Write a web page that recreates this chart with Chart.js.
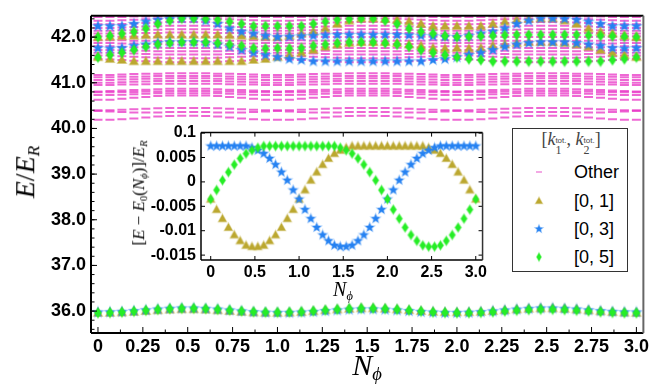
<!DOCTYPE html>
<html><head><meta charset="utf-8">
<script src="https://cdn.jsdelivr.net/npm/chart.js@4/dist/chart.umd.min.js"></script>
<style>
html,body{margin:0;padding:0;background:#fff;}
#wrap{position:relative;width:652px;height:385px;overflow:hidden;background:#fff;}
canvas{position:absolute;}
#main{left:0;top:0;}
#inset{left:150px;top:118px;}
.t{position:absolute;white-space:nowrap;font-family:"Liberation Serif","Times New Roman",serif;color:#000;line-height:1;}
.rot{transform:translate(-50%,-50%) rotate(-90deg);}
.ctr{transform:translate(-50%,-50%);}
.t sub{font-size:0.62em;vertical-align:-0.3em;}
#legend{position:absolute;left:512px;top:128px;width:116px;height:144px;border:1px solid #333;background:#fff;box-sizing:border-box;}
#ltitle{position:absolute;left:58px;top:14px;transform:translate(-50%,-50%);white-space:nowrap;font-family:"Liberation Serif",serif;font-size:18px;color:#444;}
.ss{display:inline-block;vertical-align:-0.5em;line-height:0.95;text-align:left;}
.ss span{display:block;}
.sp{font-family:"Liberation Sans",Arial,sans-serif;font-size:8px;}
.sb{font-size:12px;}
.lt{position:absolute;left:61px;transform:translateY(-50%);font-family:"Liberation Sans",Arial,sans-serif;font-size:18px;color:#000;white-space:nowrap;}
.li{position:absolute;}
</style></head><body>
<div id="wrap">
<canvas id="main" width="652" height="385"></canvas>
<canvas id="inset" width="340" height="185"></canvas>
<div class="t rot" style="left:27px;top:172px;font-size:28px;"><i>E</i>/<i>E</i><sub><i>R</i></sub></div>
<div class="t ctr" style="left:367px;top:367px;font-size:30px;"><i>N</i><sub><i>ϕ</i></sub></div>
<div class="t rot" style="left:140px;top:193px;font-size:17px;">[<i>E</i> − <i>E</i><sub>0</sub>(<i>N</i><sub><i>ϕ</i></sub>)]/<i>E</i><sub><i>R</i></sub></div>
<div class="t ctr" style="left:343px;top:291px;font-size:20px;"><i>N</i><sub><i>ϕ</i></sub></div>
<div id="legend">
 <div id="ltitle">[<i>k</i><span class="ss"><span class="sp">tot.</span><span class="sb">1</span></span>, <i>k</i><span class="ss"><span class="sp">tot.</span><span class="sb">2</span></span>]</div>
 <canvas class="li" id="li0"></canvas><div class="lt" style="top:43px;">Other</div>
 <canvas class="li" id="li1"></canvas><div class="lt" style="top:72px;">[0, 1]</div>
 <canvas class="li" id="li2"></canvas><div class="lt" style="top:100px;">[0, 3]</div>
 <canvas class="li" id="li3"></canvas><div class="lt" style="top:128px;">[0, 5]</div>
</div>
</div>
<script>
// ---------------- data ----------------
const nPhi = [0,0.0667,0.1333,0.2,0.2667,0.3333,0.4,0.4667,0.5333,0.6,0.6667,0.7333,0.8,0.8667,0.9333,1,1.0667,1.1333,1.2,1.2667,1.3333,1.4,1.4667,1.5333,1.6,1.6667,1.7333,1.8,1.8667,1.9333,2,2.0667,2.1333,2.2,2.2667,2.3333,2.4,2.4667,2.5333,2.6,2.6667,2.7333,2.8,2.8667,2.9333,3];

// E0(N_phi) (bottom cluster)
const e0 = [35.965,35.968,35.978,35.993,36.012,36.030,36.045,36.053,36.053,36.045,36.030,36.012,35.993,35.978,35.968,
35.965,35.968,35.978,35.993,36.012,36.030,36.045,36.053,36.053,36.045,36.030,36.012,35.993,35.978,35.968,
35.965,35.968,35.978,35.993,36.012,36.030,36.045,36.053,36.053,36.045,36.030,36.012,35.993,35.978,35.968,35.965];

// inset: [E - E0]/E_R
const insetK01 = [-0.00353,-0.00567,-0.00753,-0.00933,-0.01087,-0.01207,-0.01300,-0.01327,-0.01327,-0.01300,-0.01207,-0.01087,-0.00933,-0.00753,-0.00567,-0.00353,-0.00167,0.00033,0.00200,0.00353,0.00480,0.00580,0.00647,0.00700,
0.00733,0.00733,0.00733,0.00733,0.00733,0.00733,0.00733,0.00733,0.00733,0.00733,0.00733,0.00733,0.00733,
0.00700,0.00647,0.00580,0.00480,0.00353,0.00200,0.00033,-0.00167,-0.00353];
const insetK03 = [0.00733,0.00733,0.00733,0.00733,0.00733,0.00733,0.00733,0.00700,0.00647,0.00580,0.00480,0.00353,0.00200,0.00033,-0.00167,-0.00353,-0.00567,-0.00753,-0.00933,-0.01087,-0.01207,-0.01300,-0.01327,
-0.01327,-0.01300,-0.01207,-0.01087,-0.00933,-0.00753,-0.00567,-0.00353,-0.00167,0.00033,0.00200,0.00353,0.00480,0.00580,0.00647,0.00700,0.00733,0.00733,0.00733,0.00733,0.00733,0.00733,0.00733];
const insetK05 = [-0.00353,-0.00167,0.00033,0.00200,0.00353,0.00480,0.00580,0.00647,0.00700,
0.00733,0.00733,0.00733,0.00733,0.00733,0.00733,0.00733,0.00733,0.00733,0.00733,0.00733,0.00733,0.00733,
0.00700,0.00647,0.00580,0.00480,0.00353,0.00200,0.00033,-0.00167,-0.00353,-0.00567,-0.00753,-0.00933,-0.01087,-0.01207,-0.01300,-0.01327,
-0.01327,-0.01300,-0.01207,-0.01087,-0.00933,-0.00753,-0.00567,-0.00353];

// upper coloured levels (main chart)
const k03UpperA = [42.24,42.24,42.24,42.29,42.34,42.38,42.40,42.41,42.41,42.36,42.29,42.19,42.12,42.08,42.03,42.00,42.01,42.02,42.03,42.04,42.05,42.05,42.05,42.05,42.05,42.05,42.04,42.03,42.02,42.01,42.00,42.03,42.08,42.12,42.19,42.29,42.36,42.41,42.41,42.40,42.38,42.34,42.29,42.24,42.24,42.24];
const k03UpperB = [41.76,41.75,41.76,41.81,41.84,41.87,41.89,41.89,41.89,41.87,41.84,41.79,41.72,41.66,41.61,41.56,41.52,41.50,41.47,41.47,41.47,41.47,41.47,41.47,41.47,41.47,41.47,41.47,41.50,41.52,41.56,41.61,41.66,41.72,41.79,41.84,41.87,41.89,41.89,41.89,41.87,41.84,41.81,41.76,41.75,41.76];
const k01UpperA = [42.00,42.01,42.02,42.03,42.04,42.05,42.05,42.05,42.05,42.05,42.05,42.04,42.03,42.02,42.01,42.00,42.03,42.08,42.12,42.19,42.29,42.36,42.41,42.41,42.40,42.38,42.34,42.29,42.24,42.24,42.24,42.24,42.24,42.29,42.34,42.38,42.40,42.41,42.41,42.36,42.29,42.19,42.12,42.08,42.03,42.00];
const k01UpperB = [41.56,41.52,41.50,41.47,41.47,41.47,41.47,41.47,41.47,41.47,41.47,41.47,41.47,41.50,41.52,41.56,41.61,41.66,41.72,41.79,41.84,41.87,41.89,41.89,41.89,41.87,41.84,41.81,41.76,41.75,41.76,41.75,41.76,41.81,41.84,41.87,41.89,41.89,41.89,41.87,41.84,41.79,41.72,41.66,41.61,41.56];
const k05UpperA = [42.00,42.03,42.08,42.12,42.19,42.29,42.36,42.41,42.41,42.40,42.38,42.34,42.29,42.24,42.24,42.24,42.24,42.24,42.29,42.34,42.38,42.40,42.41,42.41,42.36,42.29,42.19,42.12,42.08,42.03,42.00,42.01,42.02,42.03,42.04,42.05,42.05,42.05,42.05,42.05,42.05,42.04,42.03,42.02,42.01,42.00];
const k05UpperB = [41.56,41.61,41.66,41.72,41.79,41.84,41.87,41.89,41.89,41.89,41.87,41.84,41.81,41.76,41.75,41.76,41.75,41.76,41.81,41.84,41.87,41.89,41.89,41.89,41.87,41.84,41.79,41.72,41.66,41.61,41.56,41.52,41.50,41.47,41.47,41.47,41.47,41.47,41.47,41.47,41.47,41.47,41.47,41.50,41.52,41.56];

// "Other" levels
const otherL01=[40.19,40.19,40.20,40.22,40.24,40.26,40.27,40.28,40.28,40.27,40.26,40.24,40.22,40.20,40.19,40.19,40.19,40.20,40.22,40.24,40.26,40.27,40.28,40.28,40.27,40.26,40.24,40.22,40.20,40.19,40.19,40.19,40.20,40.22,40.24,40.26,40.27,40.28,40.28,40.27,40.26,40.24,40.22,40.20,40.19,40.19];
const otherL02=[40.38,40.37,40.36,40.35,40.35,40.35,40.36,40.36,40.36,40.36,40.35,40.35,40.35,40.36,40.37,40.38,40.37,40.36,40.35,40.35,40.35,40.36,40.36,40.36,40.36,40.35,40.35,40.35,40.36,40.37,40.38,40.37,40.36,40.35,40.35,40.35,40.36,40.36,40.36,40.36,40.35,40.35,40.35,40.36,40.37,40.38];
const otherL03=[40.40,40.40,40.41,40.42,40.43,40.44,40.45,40.45,40.45,40.45,40.44,40.43,40.42,40.41,40.40,40.40,40.40,40.41,40.42,40.43,40.44,40.45,40.45,40.45,40.45,40.44,40.43,40.42,40.41,40.40,40.40,40.40,40.41,40.42,40.43,40.44,40.45,40.45,40.45,40.45,40.44,40.43,40.42,40.41,40.40,40.40];
const otherL04=[40.63,40.63,40.65,40.67,40.69,40.71,40.72,40.72,40.72,40.72,40.71,40.69,40.67,40.65,40.63,40.63,40.63,40.65,40.67,40.69,40.71,40.72,40.72,40.72,40.72,40.71,40.69,40.67,40.65,40.63,40.63,40.63,40.65,40.67,40.69,40.71,40.72,40.72,40.72,40.72,40.71,40.69,40.67,40.65,40.63,40.63];
const otherL05=[40.73,40.73,40.74,40.75,40.76,40.77,40.77,40.77,40.77,40.77,40.77,40.76,40.75,40.74,40.73,40.73,40.73,40.74,40.75,40.76,40.77,40.77,40.77,40.77,40.77,40.77,40.76,40.75,40.74,40.73,40.73,40.73,40.74,40.75,40.76,40.77,40.77,40.77,40.77,40.77,40.77,40.76,40.75,40.74,40.73,40.73];
const otherL06=[40.79,40.79,40.80,40.80,40.81,40.81,40.82,40.82,40.82,40.82,40.81,40.81,40.80,40.80,40.79,40.79,40.79,40.80,40.80,40.81,40.81,40.82,40.82,40.82,40.82,40.81,40.81,40.80,40.80,40.79,40.79,40.79,40.80,40.80,40.81,40.81,40.82,40.82,40.82,40.82,40.81,40.81,40.80,40.80,40.79,40.79];
const otherL07=[40.81,40.82,40.83,40.84,40.85,40.86,40.87,40.87,40.87,40.87,40.86,40.85,40.84,40.83,40.82,40.81,40.82,40.83,40.84,40.85,40.86,40.87,40.87,40.87,40.87,40.86,40.85,40.84,40.83,40.82,40.81,40.82,40.83,40.84,40.85,40.86,40.87,40.87,40.87,40.87,40.86,40.85,40.84,40.83,40.82,40.81];
const otherL08=[40.95,40.95,40.96,40.96,40.97,40.98,40.98,40.98,40.98,40.98,40.98,40.97,40.96,40.96,40.95,40.95,40.95,40.96,40.96,40.97,40.98,40.98,40.98,40.98,40.98,40.98,40.97,40.96,40.96,40.95,40.95,40.95,40.96,40.96,40.97,40.98,40.98,40.98,40.98,40.98,40.98,40.97,40.96,40.96,40.95,40.95];
const otherL09=[41.00,41.00,41.01,41.02,41.03,41.04,41.04,41.04,41.04,41.04,41.04,41.03,41.02,41.01,41.00,41.00,41.00,41.01,41.02,41.03,41.04,41.04,41.04,41.04,41.04,41.04,41.03,41.02,41.01,41.00,41.00,41.00,41.01,41.02,41.03,41.04,41.04,41.04,41.04,41.04,41.04,41.03,41.02,41.01,41.00,41.00];
const otherL10=[41.06,41.06,41.07,41.08,41.09,41.09,41.10,41.10,41.10,41.10,41.09,41.09,41.08,41.07,41.06,41.06,41.06,41.07,41.08,41.09,41.09,41.10,41.10,41.10,41.10,41.09,41.09,41.08,41.07,41.06,41.06,41.06,41.07,41.08,41.09,41.09,41.10,41.10,41.10,41.10,41.09,41.09,41.08,41.07,41.06,41.06];
const otherL11=[41.12,41.12,41.13,41.13,41.14,41.15,41.15,41.15,41.15,41.15,41.15,41.14,41.13,41.13,41.12,41.12,41.12,41.13,41.13,41.14,41.15,41.15,41.15,41.15,41.15,41.15,41.14,41.13,41.13,41.12,41.12,41.12,41.13,41.13,41.14,41.15,41.15,41.15,41.15,41.15,41.15,41.14,41.13,41.13,41.12,41.12];
const otherL12=[41.17,41.17,41.18,41.19,41.20,41.20,41.21,41.21,41.21,41.21,41.20,41.20,41.19,41.18,41.17,41.17,41.17,41.18,41.19,41.20,41.20,41.21,41.21,41.21,41.21,41.20,41.20,41.19,41.18,41.17,41.17,41.17,41.18,41.19,41.20,41.20,41.21,41.21,41.21,41.21,41.20,41.20,41.19,41.18,41.17,41.17];
const otherL13=[41.52,41.51,41.50,41.48,41.47,41.46,41.45,41.45,41.45,41.45,41.46,41.47,41.48,41.50,41.51,41.52,41.51,41.50,41.48,41.47,41.46,41.45,41.45,41.45,41.45,41.46,41.47,41.48,41.50,41.51,41.52,41.51,41.50,41.48,41.47,41.46,41.45,41.45,41.45,41.45,41.46,41.47,41.48,41.50,41.51,41.52];
const otherL14=[41.60,41.60,41.58,41.57,41.56,41.55,41.54,41.54,41.54,41.54,41.55,41.56,41.57,41.58,41.60,41.60,41.60,41.58,41.57,41.56,41.55,41.54,41.54,41.54,41.54,41.55,41.56,41.57,41.58,41.60,41.60,41.60,41.58,41.57,41.56,41.55,41.54,41.54,41.54,41.54,41.55,41.56,41.57,41.58,41.60,41.60];
const otherL15=[41.66,41.66,41.65,41.64,41.63,41.62,41.62,41.62,41.62,41.62,41.62,41.63,41.64,41.65,41.66,41.66,41.66,41.65,41.64,41.63,41.62,41.62,41.62,41.62,41.62,41.62,41.63,41.64,41.65,41.66,41.66,41.66,41.65,41.64,41.63,41.62,41.62,41.62,41.62,41.62,41.62,41.63,41.64,41.65,41.66,41.66];
const otherL16=[41.72,41.72,41.71,41.70,41.70,41.69,41.69,41.69,41.69,41.69,41.69,41.70,41.70,41.71,41.72,41.72,41.72,41.71,41.70,41.70,41.69,41.69,41.69,41.69,41.69,41.69,41.70,41.70,41.71,41.72,41.72,41.72,41.71,41.70,41.70,41.69,41.69,41.69,41.69,41.69,41.69,41.70,41.70,41.71,41.72,41.72];
const otherL17=[41.80,41.80,41.79,41.78,41.78,41.77,41.76,41.76,41.76,41.76,41.77,41.78,41.78,41.79,41.80,41.80,41.80,41.79,41.78,41.78,41.77,41.76,41.76,41.76,41.76,41.77,41.78,41.78,41.79,41.80,41.80,41.80,41.79,41.78,41.78,41.77,41.76,41.76,41.76,41.76,41.77,41.78,41.78,41.79,41.80,41.80];
const otherL18=[41.87,41.87,41.86,41.86,41.85,41.85,41.84,41.84,41.84,41.84,41.85,41.85,41.86,41.86,41.87,41.87,41.87,41.86,41.86,41.85,41.85,41.84,41.84,41.84,41.84,41.85,41.85,41.86,41.86,41.87,41.87,41.87,41.86,41.86,41.85,41.85,41.84,41.84,41.84,41.84,41.85,41.85,41.86,41.86,41.87,41.87];
const otherL19=[41.93,41.93,41.93,41.92,41.92,41.92,41.91,41.91,41.91,41.91,41.92,41.92,41.92,41.93,41.93,41.93,41.93,41.93,41.92,41.92,41.92,41.91,41.91,41.91,41.91,41.92,41.92,41.92,41.93,41.93,41.93,41.93,41.93,41.92,41.92,41.92,41.91,41.91,41.91,41.91,41.92,41.92,41.92,41.93,41.93,41.93];
const otherL20=[42.02,42.02,42.01,42.01,42.00,42.00,42.00,42.00,42.00,42.00,42.00,42.00,42.01,42.01,42.02,42.02,42.02,42.01,42.01,42.00,42.00,42.00,42.00,42.00,42.00,42.00,42.00,42.01,42.01,42.02,42.02,42.02,42.01,42.01,42.00,42.00,42.00,42.00,42.00,42.00,42.00,42.00,42.01,42.01,42.02,42.02];
const otherL21=[42.08,42.08,42.08,42.09,42.09,42.09,42.10,42.10,42.10,42.10,42.09,42.09,42.09,42.08,42.08,42.08,42.08,42.08,42.09,42.09,42.09,42.10,42.10,42.10,42.10,42.09,42.09,42.09,42.08,42.08,42.08,42.08,42.08,42.09,42.09,42.09,42.10,42.10,42.10,42.10,42.09,42.09,42.09,42.08,42.08,42.08];
const otherL22=[42.14,42.14,42.15,42.15,42.16,42.16,42.17,42.17,42.17,42.17,42.16,42.16,42.15,42.15,42.14,42.14,42.14,42.15,42.15,42.16,42.16,42.17,42.17,42.17,42.17,42.16,42.16,42.15,42.15,42.14,42.14,42.14,42.15,42.15,42.16,42.16,42.17,42.17,42.17,42.17,42.16,42.16,42.15,42.15,42.14,42.14];
const otherL23=[42.20,42.20,42.21,42.22,42.23,42.24,42.25,42.25,42.25,42.25,42.24,42.23,42.22,42.21,42.20,42.20,42.20,42.21,42.22,42.23,42.24,42.25,42.25,42.25,42.25,42.24,42.23,42.22,42.21,42.20,42.20,42.20,42.21,42.22,42.23,42.24,42.25,42.25,42.25,42.25,42.24,42.23,42.22,42.21,42.20,42.20];
const otherL24=[42.28,42.28,42.29,42.30,42.31,42.32,42.33,42.33,42.33,42.33,42.32,42.31,42.30,42.29,42.28,42.28,42.28,42.29,42.30,42.31,42.32,42.33,42.33,42.33,42.33,42.32,42.31,42.30,42.29,42.28,42.28,42.28,42.29,42.30,42.31,42.32,42.33,42.33,42.33,42.33,42.32,42.31,42.30,42.29,42.28,42.28];
const otherL25=[42.36,42.36,42.37,42.38,42.39,42.40,42.41,42.41,42.41,42.41,42.40,42.39,42.38,42.37,42.36,42.36,42.36,42.37,42.38,42.39,42.40,42.41,42.41,42.41,42.41,42.40,42.39,42.38,42.37,42.36,42.36,42.36,42.37,42.38,42.39,42.40,42.41,42.41,42.41,42.41,42.40,42.39,42.38,42.37,42.36,42.36];
const otherL26=[42.44,42.44,42.44,42.45,42.45,42.45,42.46,42.46,42.46,42.46,42.45,42.45,42.45,42.44,42.44,42.44,42.44,42.44,42.45,42.45,42.45,42.46,42.46,42.46,42.46,42.45,42.45,42.45,42.44,42.44,42.44,42.44,42.44,42.45,42.45,42.45,42.46,42.46,42.46,42.46,42.45,42.45,42.45,42.44,42.44,42.44];

// ticks
const xTickVals = [0,0.25,0.5,0.75,1,1.25,1.5,1.75,2,2.25,2.5,2.75,3];
const xTickLabels = ["0","0.25","0.5","0.75","1.0","1.25","1.5","1.75","2.0","2.25","2.5","2.75","3.0"];
const yTickVals = [36,37,38,39,40,41,42];
const yTickLabels = ["36.0","37.0","38.0","39.0","40.0","41.0","42.0"];
const insetXTickVals = [0,0.5,1,1.5,2,2.5,3];
const insetXTickLabels = ["0","0.5","1.0","1.5","2.0","2.5","3.0"];
const insetYTickVals = [0.01,0.005,0,-0.005,-0.01,-0.015];
const insetYTickLabels = ["0.1","0.005","0","-0.005","-0.01","-0.015"];
const legendLabels = ["Other","[0, 1]","[0, 3]","[0, 5]"];

// ---------------- styling helpers ----------------
const PINK='rgba(232,45,195,0.72)', OLIVE='rgb(188,168,48)', BLUE='rgb(38,130,242)', GREEN='rgb(38,238,38)';
const OLIVE_H='rgba(188,168,48,0.45)', BLUE_H='rgba(38,130,242,0.45)', GREEN_H='rgba(38,238,38,0.45)';
function mk(s){const c=document.createElement('canvas');c.width=c.height=s;return c;}
function starImg(col,halo,R){const s=Math.ceil(2*R+4),c=mk(s),g=c.getContext('2d');g.translate(s/2,s/2);g.beginPath();
  for(let k=0;k<10;k++){const r=k%2?R*0.45:R,a=-Math.PI/2+k*Math.PI/5;g.lineTo(r*Math.cos(a),r*Math.sin(a));}
  g.closePath();g.fillStyle=col;g.fill();g.strokeStyle=halo;g.lineWidth=1.4;g.stroke();return c;}
function triImg(col,halo,R){const s=Math.ceil(2*R+4),c=mk(s),g=c.getContext('2d');g.translate(s/2,s/2);g.beginPath();
  g.moveTo(0,-R);g.lineTo(R*0.95,R*0.7);g.lineTo(-R*0.95,R*0.7);g.closePath();g.fillStyle=col;g.fill();g.strokeStyle=halo;g.lineWidth=1.4;g.stroke();return c;}
function diaImg(col,halo,w,h){const s=Math.ceil(Math.max(w,h)+4),c=mk(s),g=c.getContext('2d');g.translate(s/2,s/2);g.beginPath();
  g.moveTo(0,-h/2);g.lineTo(w/2,0);g.lineTo(0,h/2);g.lineTo(-w/2,0);g.closePath();g.fillStyle=col;g.fill();g.strokeStyle=halo;g.lineWidth=1.4;g.stroke();return c;}

function pts(ys){return nPhi.map((x,i)=>({x:x,y:ys[i]}));}
function plus(a,b){return a.map((v,i)=>v+b[i]);}

const otherLevels=[otherL01,otherL02,otherL03,otherL04,otherL05,otherL06,otherL07,otherL08,otherL09,otherL10,otherL11,otherL12,otherL13,otherL14,otherL15,otherL16,otherL17,otherL18,otherL19,otherL20,otherL21,otherL22,otherL23,otherL24,otherL25,otherL26];
const otherPts=[].concat(...otherLevels.map(pts));
const k01Pts=[].concat(pts(plus(e0,insetK01)),pts(k01UpperA),pts(k01UpperB));
const k03Pts=[].concat(pts(plus(e0,insetK03)),pts(k03UpperA),pts(k03UpperB));
const k05Pts=[].concat(pts(plus(e0,insetK05)),pts(k05UpperA),pts(k05UpperB));

const tickFont={family:'"Liberation Sans", Arial, sans-serif',weight:'bold',size:18};
const insetFont={family:'"Liberation Sans", Arial, sans-serif',weight:'bold',size:16};

const frameTicks={id:'frameTicks',afterDraw(chart,args,o){
  const {ctx,chartArea:a,scales:{x,y}}=chart;ctx.save();
  ctx.strokeStyle='#000';ctx.lineWidth=o.tw;
  const L=(x1,y1,x2,y2)=>{ctx.beginPath();ctx.moveTo(x1,y1);ctx.lineTo(x2,y2);ctx.stroke();};
  x.ticks.forEach(t=>{const p=x.getPixelForValue(t.value);L(p,a.bottom,p,a.bottom-o.major);if(o.all)L(p,a.top,p,a.top+o.major);});
  y.ticks.forEach(t=>{const p=y.getPixelForValue(t.value);L(a.left,p,a.left+o.major,p);if(o.all)L(a.right,p,a.right-o.major,p);});
  if(o.xMinor){for(let v=o.xMinor[0];v<=o.xMinor[1]+1e-9;v+=o.xMinor[2]){const p=x.getPixelForValue(v);L(p,a.bottom,p,a.bottom-o.minor);}}
  if(o.yMinor){for(let v=o.yMinor[0];v<=o.yMinor[1]+1e-9;v+=o.yMinor[2]){const p=y.getPixelForValue(v);L(a.left,p,a.left+o.minor,p);}}
  ctx.lineWidth=o.fw;ctx.strokeStyle='#000';
  L(a.left,a.top,a.left,a.bottom);L(a.left,a.bottom,a.right,a.bottom);L(a.left,a.top,a.right,a.top);
  ctx.strokeStyle=o.rightColor;L(a.right,a.top,a.right,a.bottom);
  ctx.restore();}};

function axis(min,max,vals,labels,font,pad,fit,isX){
  return {type:'linear',min:min,max:max,grid:{display:false,drawTicks:false},border:{display:false},
    afterBuildTicks:ax=>{ax.ticks=vals.map(v=>({value:v}));},
    afterFit:ax=>{if(isX)ax.height=fit;else ax.width=fit;},
    ticks:{autoSkip:false,maxRotation:0,minRotation:0,padding:pad,color:'#000',font:font,callback:(v,i)=>labels[i]}};
}

new Chart(document.getElementById('main'),{
  type:'scatter',
  data:{datasets:[
    {label:legendLabels[3],data:k05Pts,pointStyle:diaImg(GREEN,GREEN_H,7,10),pointRadius:4},
    {label:legendLabels[2],data:k03Pts,pointStyle:starImg(BLUE,BLUE_H,5),pointRadius:4},
    {label:legendLabels[1],data:k01Pts,pointStyle:triImg(OLIVE,OLIVE_H,4.6),pointRadius:4},
    {label:legendLabels[0],data:otherPts,pointStyle:'line',pointRadius:4.5,pointBorderWidth:2,pointBorderColor:PINK,pointBackgroundColor:PINK}
  ]},
  options:{responsive:false,animation:false,devicePixelRatio:1,
    layout:{padding:{left:0,right:7,top:10,bottom:0}},
    plugins:{legend:{display:false},tooltip:{enabled:false},
      frameTicks:{tw:1,fw:2,major:6,minor:3.5,all:false,rightColor:'#666',xMinor:[0.125,2.875,0.25],yMinor:[35.6,42.4,0.2]}},
    scales:{x:axis(-0.0389,3.0389,xTickVals,xTickLabels,tickFont,3,52,true),
            y:axis(35.52,42.467,yTickVals,yTickLabels,tickFont,5,91,false)}},
  plugins:[frameTicks]});

new Chart(document.getElementById('inset'),{
  type:'scatter',
  data:{datasets:[
    {label:legendLabels[3],data:pts(insetK05),pointStyle:diaImg(GREEN,GREEN_H,6,9),pointRadius:4},
    {label:legendLabels[2],data:pts(insetK03),pointStyle:starImg(BLUE,BLUE_H,4.5),pointRadius:4},
    {label:legendLabels[1],data:pts(insetK01),pointStyle:triImg(OLIVE,OLIVE_H,4.2),pointRadius:4}
  ]},
  options:{responsive:false,animation:false,devicePixelRatio:1,
    layout:{padding:{left:0,right:5,top:12,bottom:0}},
    plugins:{legend:{display:false},tooltip:{enabled:false},
      frameTicks:{tw:1,fw:1.5,major:4,minor:0,all:true,rightColor:'#333'}},
    scales:{x:axis(-0.11,3.077,insetXTickVals,insetXTickLabels,insetFont,3,43,true),
            y:axis(-0.016,0.0101,insetYTickVals,insetYTickLabels,insetFont,5,51,false)}},
  plugins:[frameTicks]});

// legend icons
function icon(id,img,cx,cy){const c=document.getElementById(id);c.width=img.width;c.height=img.height;c.getContext('2d').drawImage(img,0,0);
  c.style.left=(cx-img.width/2)+'px';c.style.top=(cy-img.height/2)+'px';}
const dash=mk(10);{const g=dash.getContext('2d');g.strokeStyle='rgba(235,110,210,0.75)';g.lineWidth=1.6;g.beginPath();g.moveTo(2,5);g.lineTo(8,5);g.stroke();}
icon('li0',dash,26,43);
icon('li1',triImg(OLIVE,OLIVE_H,3.6),26,72);
icon('li2',starImg(BLUE,BLUE_H,3.8),26,100);
icon('li3',diaImg(GREEN,GREEN_H,4.5,8),26,128);
</script>
</body></html>
